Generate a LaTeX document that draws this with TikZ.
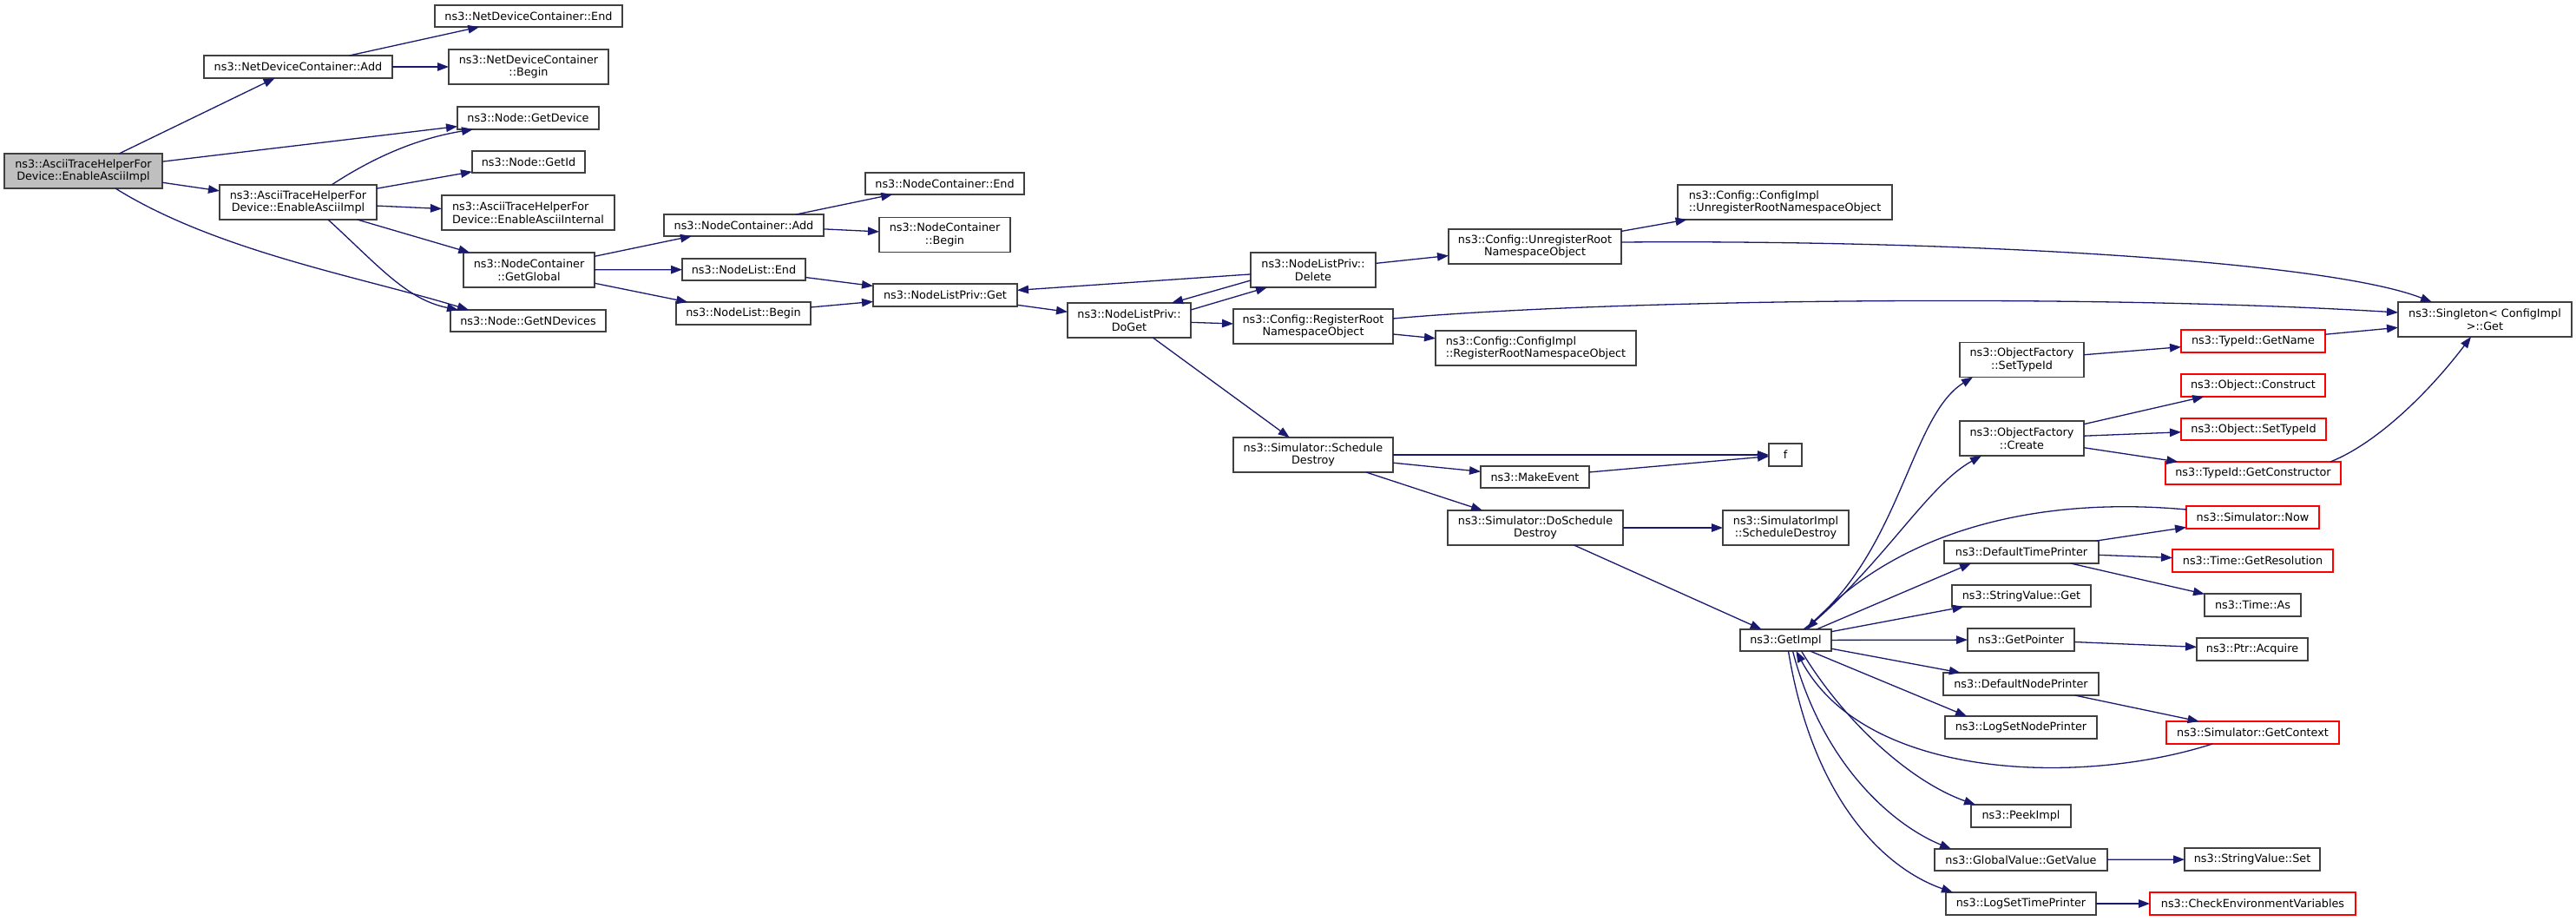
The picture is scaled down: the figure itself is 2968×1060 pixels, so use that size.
\documentclass[tikz,border=0pt]{standalone}
\usepackage{fontspec}
\setmainfont{DejaVu Sans}
\usetikzlibrary{arrows.meta,calc}
\definecolor{edgeblue}{HTML}{191970}
\definecolor{boxgray}{HTML}{404040}
\definecolor{mainfill}{HTML}{BFBFBF}
\definecolor{redb}{HTML}{FF0000}
\tikzset{
  box/.style={draw=boxgray, line width=1.4pt, fill=white, inner sep=0pt, outer sep=0pt,
    align=center, font=\fontsize{12.8}{14.7}\selectfont},
  leftbox/.style={align=left},
  redbox/.style={box, draw=redb},
  mainbox/.style={box, fill=mainfill},
  dims/.style 2 args={minimum width=#1pt, minimum height=#2pt},
  edge/.style={draw=edgeblue, line width=1.3pt, -{Triangle[length=13pt,width=9.5pt]}},
}
\begin{document}
\begin{tikzpicture}[x=1pt,y=-1pt]
\fill[white] (0,0) rectangle (2968,1060);
\useasboundingbox (0,0) rectangle (2968,1060);
% column 1-3
\node[mainbox,dims={182}{40}] (main) at (96,197) {ns3::AsciiTraceHelperFor\\Device::EnableAsciiImpl};
\node[box,dims={217}{26}] (ndcAdd) at (343.5,77) {ns3::NetDeviceContainer::Add};
\node[box,dims={181}{40}] (asc2) at (343.5,233) {ns3::AsciiTraceHelperFor\\Device::EnableAsciiImpl};
\node[box,dims={216}{25}] (ndcEnd) at (609,18.5) {ns3::NetDeviceContainer::End};
\node[box,dims={184}{40}] (ndcBegin) at (609,77) {ns3::NetDeviceContainer\\::Begin};
\node[box,dims={163}{26}] (getDevice) at (608.5,136) {ns3::Node::GetDevice};
\node[box,dims={130}{25}] (getId) at (609,186.5) {ns3::Node::GetId};
\node[box,leftbox,dims={199}{40}] (ascInternal) at (608.5,245) {ns3::AsciiTraceHelperFor\\Device::EnableAsciiInternal};
\node[box,dims={151}{40}] (getGlobal) at (609.5,311) {ns3::NodeContainer\\::GetGlobal};
\node[box,dims={179}{25}] (getNDevices) at (608.5,369.5) {ns3::Node::GetNDevices};
% column 4-5
\node[box,dims={184}{25}] (ncAdd) at (857,259.5) {ns3::NodeContainer::Add};
\node[box,dims={142}{25}] (nlEnd) at (857,310.5) {ns3::NodeList::End};
\node[box,dims={155}{26}] (nlBegin) at (856.5,361) {ns3::NodeList::Begin};
\node[box,dims={183}{25}] (ncEnd) at (1088.5,211.5) {ns3::NodeContainer::End};
\node[box,dims={151}{40}] (ncBegin) at (1088.5,270.5) {ns3::NodeContainer\\::Begin};
\node[box,dims={166}{26}] (nlpGet) at (1089,340) {ns3::NodeListPriv::Get};
% column 6-8
\node[box,dims={142}{40}] (doGet) at (1301,369) {ns3::NodeListPriv::\\DoGet};
\node[box,dims={144}{40}] (delete) at (1513,311) {ns3::NodeListPriv::\\Delete};
\node[box,dims={184}{40}] (regRoot) at (1513,376) {ns3::Config::RegisterRoot\\NamespaceObject};
\node[box,dims={184}{40}] (schedDestroy) at (1513,524) {ns3::Simulator::Schedule\\Destroy};
\node[box,dims={199}{40}] (unregRoot) at (1768.5,284) {ns3::Config::UnregisterRoot\\NamespaceObject};
\node[box,leftbox,dims={231}{40}] (cfgRegRoot) at (1769.5,401) {ns3::Config::ConfigImpl\\::RegisterRootNamespaceObject};
\node[box,dims={125}{25}] (makeEvent) at (1768.5,549.5) {ns3::MakeEvent};
\node[box,dims={202}{40}] (doSched) at (1769,608) {ns3::Simulator::DoSchedule\\Destroy};
% column 9
\node[box,leftbox,dims={247}{40}] (cfgUnreg) at (2056.5,233) {ns3::Config::ConfigImpl\\::UnregisterRootNamespaceObject};
\node[box,dims={38}{26}] (f) at (2057,524) {f};
\node[box,dims={145}{40}] (simImplSD) at (2057.5,608) {ns3::SimulatorImpl\\::ScheduleDestroy};
\node[box,dims={105}{25}] (getImpl) at (2057.5,737.5) {ns3::GetImpl};
% column 10
\node[box,dims={143}{40}] (ofSetTypeId) at (2329.5,414.5) {ns3::ObjectFactory\\::SetTypeId};
\node[box,dims={143}{40}] (ofCreate) at (2329.5,505) {ns3::ObjectFactory\\::Create};
\node[box,dims={178}{26}] (defTimePrinter) at (2329,636) {ns3::DefaultTimePrinter};
\node[box,dims={160}{25}] (svGet) at (2329,686.5) {ns3::StringValue::Get};
\node[box,dims={123}{26}] (getPointer) at (2328.5,737) {ns3::GetPointer};
\node[box,dims={179}{26}] (defNodePrinter) at (2328.5,788) {ns3::DefaultNodePrinter};
\node[box,dims={175}{26}] (logSetNode) at (2328.5,838) {ns3::LogSetNodePrinter};
\node[box,dims={115}{26}] (peekImpl) at (2328.5,940) {ns3::PeekImpl};
\node[box,dims={199}{25}] (gvGetValue) at (2328.5,990.5) {ns3::GlobalValue::GetValue};
\node[box,dims={173}{26}] (logSetTime) at (2328.5,1041) {ns3::LogSetTimePrinter};
% column 11
\node[redbox,dims={166}{26}] (tidGetName) at (2596,393) {ns3::TypeId::GetName};
\node[redbox,dims={166}{26}] (objConstruct) at (2596,444) {ns3::Object::Construct};
\node[redbox,dims={167}{25}] (objSetTypeId) at (2596.5,494.5) {ns3::Object::SetTypeId};
\node[redbox,dims={202}{26}] (tidGetCons) at (2596,545) {ns3::TypeId::GetConstructor};
\node[redbox,dims={153}{26}] (simNow) at (2595.5,596) {ns3::Simulator::Now};
\node[redbox,dims={185}{26}] (timeGetRes) at (2595.5,646) {ns3::Time::GetResolution};
\node[box,dims={111}{26}] (timeAs) at (2595.5,697) {ns3::Time::As};
\node[box,dims={128}{26}] (ptrAcquire) at (2595,748) {ns3::Ptr::Acquire};
\node[redbox,dims={199}{26}] (simGetContext) at (2595.5,844) {ns3::Simulator::GetContext};
\node[box,dims={156}{26}] (svSet) at (2595,990) {ns3::StringValue::Set};
\node[redbox,dims={237}{26}] (checkEnv) at (2595.5,1041) {ns3::CheckEnvironmentVariables};
% column 12
\node[box,dims={200}{40}] (singleton) at (2863,368) {ns3::Singleton< ConfigImpl\\>::Get};

% edges
\draw[edge] (main) -- (ndcAdd);
\draw[edge] (main) -- (getDevice);
\draw[edge] (main) -- (asc2);
\draw[edge] ($(main.south)+(37,0)$) .. controls +(117,73) and +(-120,-37) .. ($(getNDevices.north west)+(21,0)$);
\draw[edge] (ndcAdd) -- (ndcEnd);
\draw[edge] (ndcAdd) -- (ndcBegin);
\draw[edge] ($(asc2.north)+(38.5,0)$) .. controls +(58,-38) and +(-55,9) .. ($(getDevice.south west)+(18,0)$);
\draw[edge] (asc2) -- (getId);
\draw[edge] (asc2) -- (ascInternal);
\draw[edge] (asc2) -- (getGlobal);
\draw[edge] ($(asc2.south)+(34.5,0)$) .. controls +(57,52) and +(-60,-12) .. ($(getNDevices.north west)+(9,0)$);
\draw[edge] (getGlobal) -- (ncAdd);
\draw[edge] (getGlobal) -- (nlEnd);
\draw[edge] (getGlobal) -- (nlBegin);
\draw[edge] (ncAdd) -- (ncEnd);
\draw[edge] (ncAdd) -- (ncBegin);
\draw[edge] (nlEnd) -- (nlpGet);
\draw[edge] (nlBegin) -- (nlpGet);
\draw[edge] (nlpGet) -- (doGet);
\draw[edge] (delete) -- (nlpGet);
\draw[edge] ($(delete.west)+(0,12)$) -- ($(doGet.north east)+(-22,0)$);
\draw[edge] ($(doGet.north east)+(0,8)$) -- ($(delete.south west)+(19,0)$);
\draw[edge] (doGet) -- (regRoot);
\draw[edge] (doGet) -- (schedDestroy);
\draw[edge] (delete) -- (unregRoot);
\draw[edge] (unregRoot) -- (cfgUnreg);
\draw[edge] ($(unregRoot.east)+(0,-5)$) .. controls +(382,-3) and +(-122,-48) .. ($(singleton.north west)+(39,0)$);
\draw[edge] ($(regRoot.east)+(0,-9)$) .. controls +(245,-22) and +(-363,-22) .. ($(singleton.west)+(0,-8)$);
\draw[edge] (regRoot) -- (cfgRegRoot);
\draw[edge] (schedDestroy) -- (f);
\draw[edge] (schedDestroy) -- (makeEvent);
\draw[edge] (schedDestroy) -- (doSched);
\draw[edge] (makeEvent) -- (f);
\draw[edge] (doSched) -- (simImplSD);
\draw[edge] (doSched) -- (getImpl);
% GetImpl fan
\draw[edge] ($(getImpl.north)+(20.5,0)$) .. controls +(112,-85) and +(-73,45) .. ($(ofSetTypeId.south west)+(15,0)$);
\draw[edge] ($(getImpl.north)+(22.5,0)$) .. controls +(90,-75) and +(-63,35) .. ($(ofCreate.south west)+(25,0)$);
\draw[edge] ($(simNow.north west)+(0,4)$) .. controls +(-189,-17) and +(98,-105) .. ($(getImpl.north)+(24.5,0)$);
\draw[edge] ($(getImpl.north)+(35.5,0)$) -- ($(defTimePrinter.south west)+(31,0)$);
\draw[edge] (getImpl) -- (svGet);
\draw[edge] (getImpl) -- (getPointer);
\draw[edge] (getImpl) -- (defNodePrinter);
\draw[edge] ($(getImpl.south)+(28,0)$) -- ($(logSetNode.north west)+(25,0)$);
\draw[edge] ($(getImpl.south)+(18,0)$) .. controls +(48,80) and +(-76,-27) .. ($(peekImpl.north west)+(5,0)$);
\draw[edge] ($(getImpl.south)+(8,0)$) .. controls +(34,130) and +(-68,-28) .. ($(gvGetValue.north west)+(19,0)$);
\draw[edge] ($(getImpl.south)+(3,0)$) .. controls +(28,170) and +(-80,-28) .. ($(logSetTime.north west)+(8,0)$);
\draw[edge] ($(simGetContext.south west)+(53,0)$) .. controls +(-149,48) and +(80,150) .. ($(getImpl.south)+(12,0)$);
% column 10 -> 11
\draw[edge] (ofSetTypeId) -- (tidGetName);
\draw[edge] (tidGetName) -- (singleton);
\draw[edge] (ofCreate) -- (objConstruct);
\draw[edge] (ofCreate) -- (objSetTypeId);
\draw[edge] (ofCreate) -- (tidGetCons);
\draw[edge] ($(tidGetCons.north east)+(-12,0)$) .. controls +(55,-22) and +(-47,62) .. ($(singleton.south west)+(84,0)$);
\draw[edge] (defTimePrinter) -- (simNow);
\draw[edge] (defTimePrinter) -- (timeGetRes);
\draw[edge] (defTimePrinter) -- (timeAs);
\draw[edge] (getPointer) -- (ptrAcquire);
\draw[edge] (defNodePrinter) -- (simGetContext);
\draw[edge] (gvGetValue) -- (svSet);
\draw[edge] (logSetTime) -- (checkEnv);
\end{tikzpicture}
\end{document}
